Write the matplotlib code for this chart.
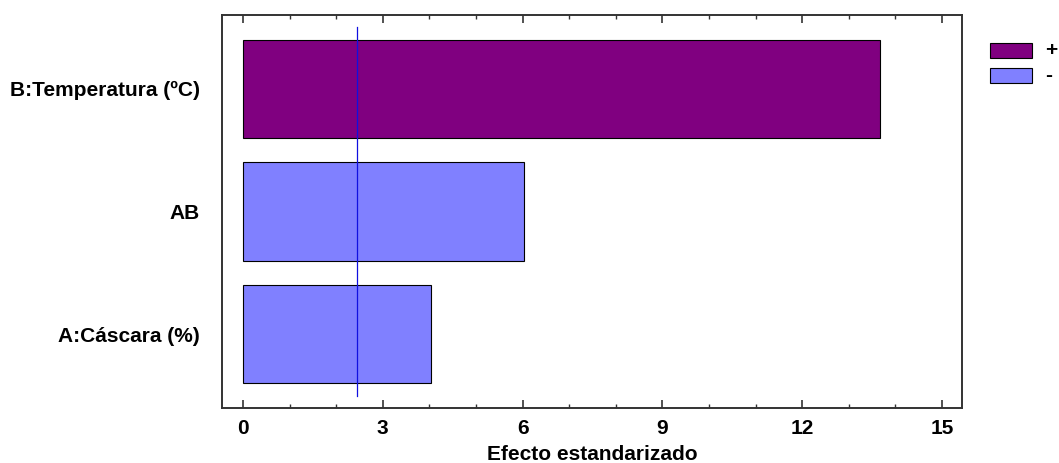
import matplotlib
matplotlib.use("Agg")
import matplotlib.pyplot as plt
from matplotlib.patches import Rectangle
from matplotlib.ticker import MultipleLocator

plt.rcParams['font.family'] = ['Liberation Sans', 'DejaVu Sans']

categories = ["B:Temperatura (ºC)", "AB", "A:Cáscara (%)"]
effects = [13.68, 6.03, 4.04]
signs = ["+", "-", "-"]
critical = 2.447
xticks = [0, 3, 6, 9, 12, 15]
legend_labels = ["+", "-"]

colors = {"+": "#800080", "-": "#8080FF"}
W, H = 1059, 463

fig = plt.figure(figsize=(W/100, H/100), dpi=100)
ax = fig.add_axes([222/W, 1 - 408/H, (962-222)/W, (408-15)/H])

ypos = list(range(len(categories)))
ax.barh(ypos, effects, height=0.8, color=[colors[s] for s in signs],
        edgecolor="black", linewidth=0.8, zorder=2)
ax.plot([critical, critical], [-0.5, 2.5], color="#1010E0", linewidth=0.9, zorder=3)

ax.set_ylim(2.6, -0.6)
ax.set_xlim(-0.45, 15.43)
ax.set_yticks(ypos)
ax.set_yticklabels(categories, fontsize=15, fontweight="bold")
ax.set_xticks(xticks)
ax.set_xticklabels([str(t) for t in xticks], fontsize=15, fontweight="bold")
ax.xaxis.set_minor_locator(MultipleLocator(1))
ax.tick_params(axis="y", length=0, pad=16)
ax.tick_params(axis="x", which="major", direction="in", length=6, width=1.2,
               top=True, bottom=True, pad=8, color="#333333")
ax.tick_params(axis="x", which="minor", direction="in", length=3, width=1.0,
               top=True, bottom=True, color="#333333")
for sp in ax.spines.values():
    sp.set_color("#333333")
    sp.set_linewidth(1.4)
ax.set_xlabel("Efecto estandarizado", fontsize=15, fontweight="bold", labelpad=5)

# legend drawn manually in figure pixel coordinates
for i, lab in enumerate(legend_labels):
    top = 43 + 25 * i
    fig.patches.append(Rectangle((990/W, 1 - (top + 15)/H), 42/W, 15/H,
                                 transform=fig.transFigure, facecolor=colors[lab],
                                 edgecolor="black", linewidth=0.8))
    fig.text(1045/W, 1 - (top + 7.5)/H, lab, fontsize=15, fontweight="bold",
             va="center", ha="left")

fig.savefig("out.png", dpi=100)
